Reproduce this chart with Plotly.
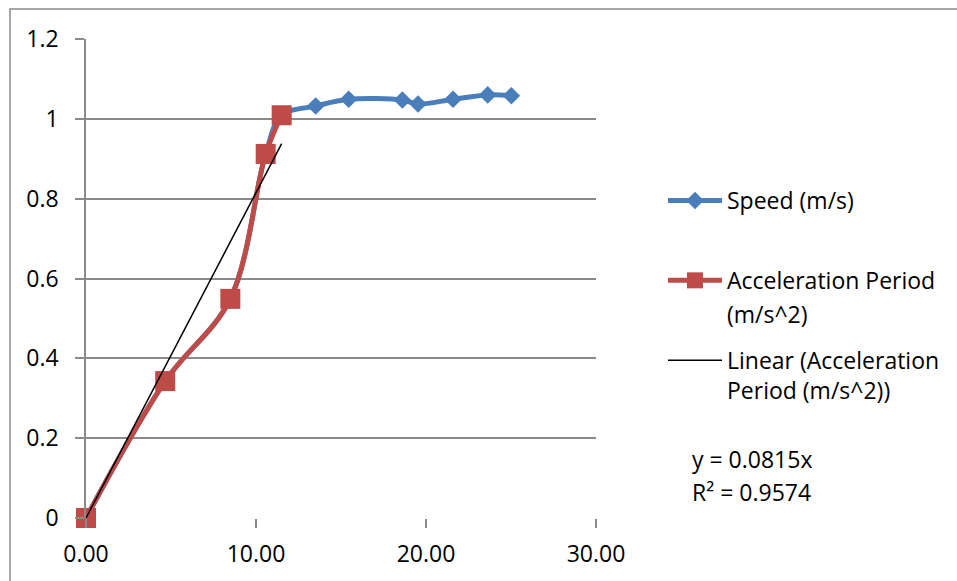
import plotly.graph_objects as go

# Data
speed_x = [0.0, 4.66, 8.49, 10.57, 11.51, 13.51, 15.45, 18.61, 19.53, 21.59, 23.63, 25.02]
speed_y = [0.0, 0.343, 0.549, 0.912, 1.009, 1.032, 1.049, 1.047, 1.037, 1.049, 1.060, 1.058]

accel_x = [0.0, 4.66, 8.49, 10.57, 11.51]
accel_y = [0.0, 0.343, 0.549, 0.912, 1.009]

trend_slope = 0.0815
trend_r2 = 0.9574
trend_x = [0.0, max(accel_x)]
trend_y = [trend_slope * v for v in trend_x]

x_ticks = [0, 10, 20, 30]
x_tick_labels = ["0.00", "10.00", "20.00", "30.00"]
y_ticks = [0, 0.2, 0.4, 0.6, 0.8, 1.0, 1.2]
y_tick_labels = ["0", "0.2", "0.4", "0.6", "0.8", "1", "1.2"]

FONT = "Open Sans"
FS = 23
W, H = 957, 581
L, R, T, B = 86, 596, 39, 518


def px(p):
    return (p - L) / (R - L)


def py(q):
    return (B - q) / (B - T)


fig = go.Figure()
fig.add_trace(go.Scatter(
    x=speed_x, y=speed_y, name="Speed (m/s)", mode="lines+markers",
    line=dict(color="#4A7EBB", width=5, shape="spline", smoothing=1.0),
    marker=dict(symbol="diamond", size=13.5, color="#4A7EBB", line=dict(width=0)),
    legendgroup="a", cliponaxis=False,
))
fig.add_trace(go.Scatter(
    x=accel_x, y=accel_y, name="Acceleration Period", mode="lines+markers",
    line=dict(color="#BE4B48", width=5, shape="spline", smoothing=1.0),
    marker=dict(symbol="square", size=20, color="#BE4B48", line=dict(width=0)),
    legendgroup="b", cliponaxis=False,
))
fig.add_trace(go.Scatter(
    x=trend_x, y=trend_y, name="Linear (Acceleration", mode="lines",
    line=dict(color="black", width=1.5),
    legendgroup="c", cliponaxis=False,
))

grid = "#8a8a8a"
fig.update_xaxes(
    range=[0, 30], tickvals=x_ticks, ticktext=x_tick_labels,
    showgrid=False, zeroline=False, showline=False,
    ticks="outside", ticklen=9, tickcolor=grid, tickwidth=1.5,
    ticklabelstandoff=6,
    tickfont=dict(family=FONT, size=FS, color="black"),
)
fig.update_yaxes(
    range=[0, 1.2], tickvals=y_ticks, ticktext=y_tick_labels,
    showgrid=True, gridcolor=grid, gridwidth=1.5, zeroline=False,
    showline=True, linecolor=grid, linewidth=1.5,
    ticks="outside", ticklen=9, tickcolor=grid, tickwidth=1.5,
    ticklabelstandoff=12,
    tickfont=dict(family=FONT, size=FS, color="black"),
)

fig.add_shape(type="rect", xref="paper", yref="paper",
              x0=px(10), y0=py(700), x1=px(1100), y1=py(9),
              line=dict(color="#8a8a8a", width=1.5), layer="below")

ann_font = dict(family=FONT, size=FS, color="black")
annotations = [
    dict(text="(m/s^2)", x=px(725), y=py(314)),
    dict(text="Period (m/s^2))", x=px(725), y=py(390)),
    dict(text="y = 0.0815x", x=px(690), y=py(459)),
    dict(text="R² = 0.9574", x=px(690), y=py(492)),
]
for a in annotations:
    fig.add_annotation(xref="paper", yref="paper", xanchor="left", yanchor="middle",
                       showarrow=False, font=ann_font, **a)

fig.update_layout(
    width=W, height=H,
    margin=dict(l=L, r=W - R, t=T, b=H - B),
    plot_bgcolor="white", paper_bgcolor="white",
    font=dict(family=FONT, size=FS, color="black"),
    showlegend=True,
    legend=dict(x=px(663), y=py(179), xanchor="left", yanchor="top",
                traceorder="grouped", tracegroupgap=47, itemwidth=54,
                font=dict(family=FONT, size=FS, color="black"),
                bgcolor="rgba(0,0,0,0)"),
)

fig.write_html(
    "out.html",
    config={"displayModeBar": False},
    post_script="document.body.style.margin='0';document.body.style.overflow='hidden';",
)
